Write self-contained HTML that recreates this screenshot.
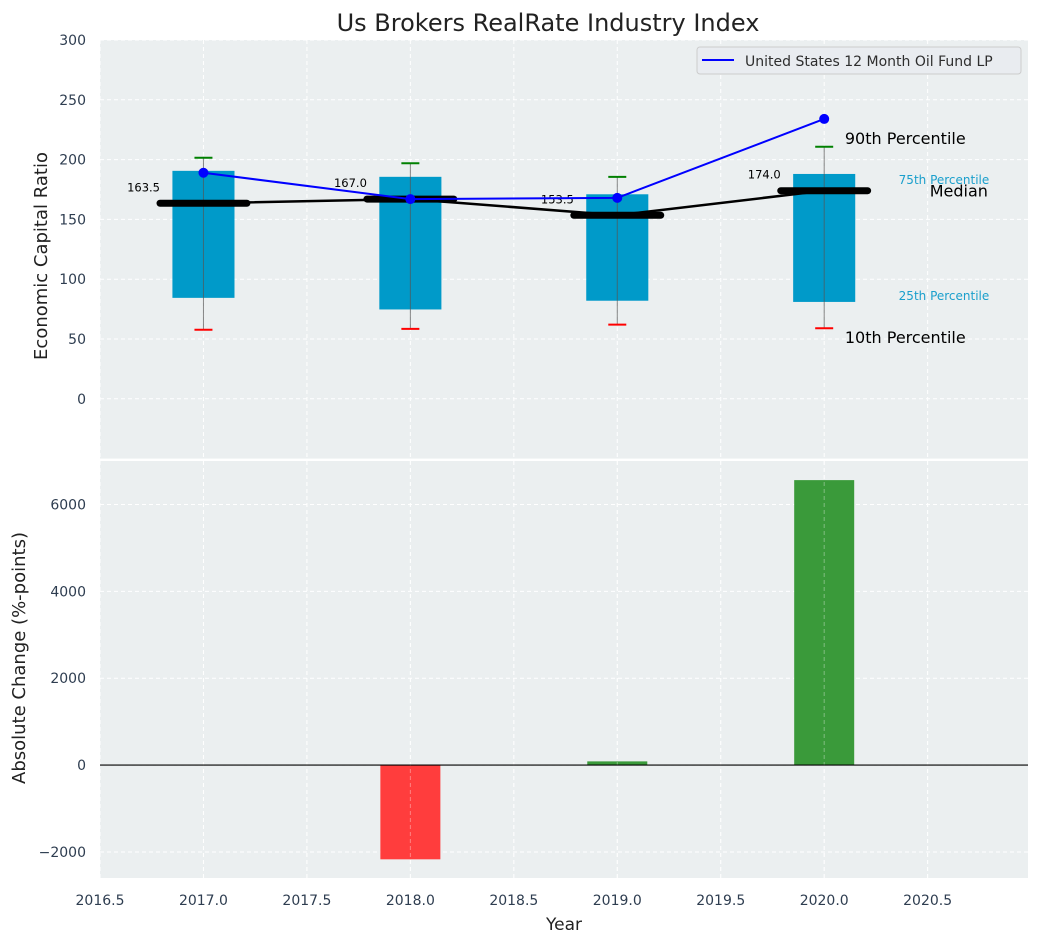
<!DOCTYPE html>
<html><head><meta charset="utf-8"><style>
body{margin:0;background:#fff;font-family:"Liberation Sans","DejaVu Sans",sans-serif}
svg text{font-family:"DejaVu Sans","Liberation Sans",sans-serif}
</style></head><body>
<svg id="c" width="1039" height="942" viewBox="0 0 1039 942" xmlns="http://www.w3.org/2000/svg"></svg>
<script>
const years=[2017,2018,2019,2020];
const p10=[57.7,58.5,62,59];
const p25=[84.4,74.7,82,81];
const median=[163.5,167,153.5,174];
const p75=[190.6,185.6,171,188];
const p90=[201.5,197,185.6,210.7];
const fund=[189,167,168,234];
const change=[0,-2170,85,6560];
const xTicks=[2016.5,2017,2017.5,2018,2018.5,2019,2019.5,2020,2020.5];
const yTopTicks=[0,50,100,150,200,250,300];
const yBotTicks=[-2000,0,2000,4000,6000];

const NS="http://www.w3.org/2000/svg";
const svg=document.getElementById('c');
function el(t,a,p){const e=document.createElementNS(NS,t);for(const k in a)e.setAttribute(k,a[k]);(p||svg).appendChild(e);return e;}
const L=100,R=1028;
const X=v=>L+(v-2016.5)*(R-L)/(2020.985-2016.5);
const T0=40,T1=458.6;const YT=v=>T0+(300-v)*(T1-T0)/350;
const B0=461,B1=878;const YB=v=>B0+(7000-v)*(B1-B0)/9600;

let r=el('rect',{x:L,y:T0,width:R-L,height:T1-T0,fill:'#ebeff0'});

r=el('rect',{x:L,y:B0,width:R-L,height:B1-B0,fill:'#ebeff0'});


xTicks.forEach(t=>{
  el('line',{x1:X(t),x2:X(t),y1:T0,y2:T1,stroke:'#fff','stroke-dasharray':'4,3','stroke-width':1});
  el('line',{x1:X(t),x2:X(t),y1:B0,y2:B1,stroke:'#fff','stroke-dasharray':'4,3','stroke-width':1});
});
yTopTicks.forEach(t=>{
  el('line',{x1:L,x2:R,y1:YT(t),y2:YT(t),stroke:'#fff','stroke-dasharray':'4,3'});
  const tx=el('text',{x:L-14,y:YT(t)+5,'text-anchor':'end','font-size':14,fill:'#2e3d50'});tx.textContent=t;
  
});
yBotTicks.forEach(t=>{
  el('line',{x1:L,x2:R,y1:YB(t),y2:YB(t),stroke:'#fff','stroke-dasharray':'4,3'});
  const tx=el('text',{x:L-14,y:YB(t)+5,'text-anchor':'end','font-size':14,fill:'#2e3d50'});tx.textContent=(t<0?'\u2212'+(-t):t);
  
});
xTicks.forEach(t=>{
  const tx=el('text',{x:X(t),y:B1+27,'text-anchor':'middle','font-size':14,fill:'#2e3d50'});tx.textContent=t.toFixed(1);
  
});

years.forEach((y,i)=>{
  const b=el('rect',{x:X(y-0.15),y:YT(p75[i]),width:X(y+0.15)-X(y-0.15),height:YT(p25[i])-YT(p75[i]),fill:'#009ac9'});
  
  el('line',{x1:X(y),x2:X(y),y1:YT(p90[i]),y2:YT(p10[i]),stroke:'#555','stroke-width':1,opacity:0.7});
  el('line',{x1:X(y)-9,x2:X(y)+9,y1:YT(p90[i]),y2:YT(p90[i]),stroke:'green','stroke-width':2});
  el('line',{x1:X(y)-9,x2:X(y)+9,y1:YT(p10[i]),y2:YT(p10[i]),stroke:'red','stroke-width':2});
});
let pts=years.map((y,i)=>X(y)+','+YT(median[i])).join(' ');
let pl=el('polyline',{points:pts,fill:'none',stroke:'#000','stroke-width':2.5});

years.forEach((y,i)=>{
  el('line',{x1:X(y-0.21),x2:X(y+0.21),y1:YT(median[i]),y2:YT(median[i]),stroke:'#000','stroke-width':7,'stroke-linecap':'round'});
  const tx=el('text',{x:X(y-0.21),y:YT(median[i]+10),'text-anchor':'end','font-size':11.5,fill:'#000'});tx.textContent=median[i].toFixed(1);
  
});
pts=years.map((y,i)=>X(y)+','+YT(fund[i])).join(' ');
pl=el('polyline',{points:pts,fill:'none',stroke:'#0000ff','stroke-width':2});

years.forEach((y,i)=>{const c=el('circle',{cx:X(y),cy:YT(fund[i]),r:5,fill:'#0000ff'});
  });

const lx=X(2020.1),li=3;
function ann(x,y,txt,fs,col,name){const t=el('text',{x:x,y:y,'font-size':fs,fill:col});t.textContent=txt;
  }
ann(lx,YT(p90[li])-3,'90th Percentile',16,'#000','p90-annotation');
ann(lx,YT(p10[li])+15,'10th Percentile',16,'#000','p10-annotation');
ann(X(2020.36),YT(p75[li])+10,'75th Percentile',12,'#1a9fcc','p75-annotation');
ann(X(2020.36),YT(p25[li])-2,'25th Percentile',12,'#1a9fcc','p25-annotation');
ann(X(2020.51),YT(median[li])+6,'Median',16,'#000','median-annotation');

const lg=el('g',{});
el('rect',{x:697,y:47,width:324,height:27,rx:3,fill:'#e9ecf0',stroke:'#ccc'},lg);
el('line',{x1:702,x2:734,y1:60,y2:60,stroke:'#0000ff','stroke-width':2},lg);
const lt=el('text',{x:745,y:66,'font-size':14,fill:'#2e2e2e'},lg);lt.textContent='United States 12 Month Oil Fund LP';

years.forEach((y,i)=>{
  const v=change[i];const y0=YB(Math.max(v,0)),y1=YB(Math.min(v,0));
  const b=el('rect',{x:X(y-0.145),y:y0,width:X(y+0.145)-X(y-0.145),height:Math.max(y1-y0,0),fill:v<0?'#ff3d3d':'#3a9a3a'});
  
});
xTicks.forEach(t=>el('line',{x1:X(t),x2:X(t),y1:B0,y2:B1,stroke:'#fff','stroke-dasharray':'4,3',opacity:0.35}));
el('line',{x1:L,x2:R,y1:YB(0),y2:YB(0),stroke:'#000','stroke-width':1.2});

let t=el('text',{x:548,y:31,'text-anchor':'middle','font-size':24,fill:'#222'});t.textContent='Us Brokers RealRate Industry Index';

t=el('text',{x:564,y:930,'text-anchor':'middle','font-size':17,fill:'#222'});t.textContent='Year';

t=el('text',{x:0,y:0,'text-anchor':'middle','font-size':18,fill:'#222',transform:'translate(47,256) rotate(-90)'});t.textContent='Economic Capital Ratio';

t=el('text',{x:0,y:0,'text-anchor':'middle','font-size':18,fill:'#222',transform:'translate(25,658) rotate(-90)'});t.textContent='Absolute Change (%-points)';

</script>
</body></html>
